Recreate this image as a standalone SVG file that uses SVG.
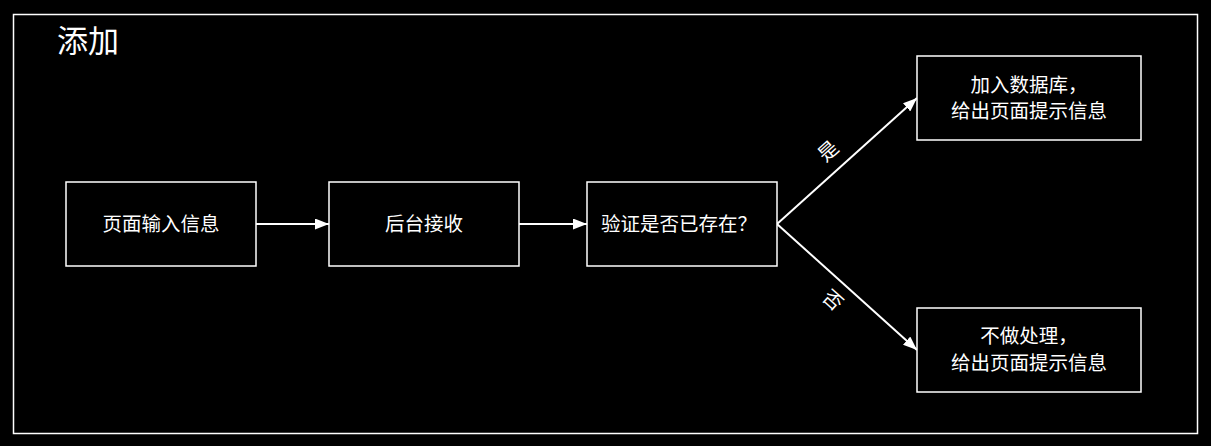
<svg xmlns="http://www.w3.org/2000/svg" width="1211" height="446" viewBox="0 0 1211 446">
<style>
.box{fill:#000;stroke:#fff;stroke-width:1.5}
.t{font-family:"Liberation Sans","Noto Sans CJK SC",sans-serif;font-size:19.5px;fill:#fff;text-anchor:middle;dominant-baseline:central}
.edge{stroke:#fff;stroke-width:2;fill:none}
</style>
<defs>
<marker id="ah" viewBox="0 0 14 11" refX="14" refY="5.5" markerWidth="14" markerHeight="11" markerUnits="userSpaceOnUse" orient="auto">
<path d="M0,0 L14,5.5 L0,11 z" fill="#fff"/>
</marker>
</defs>
<rect x="0" y="0" width="1211" height="446" fill="#000"/>
<g id="frame">
<rect x="13.5" y="14.5" width="1184" height="419" fill="none" stroke="#fff" stroke-width="1.5"/>
<text x="57" y="52" font-family="'Liberation Sans','Noto Sans CJK SC',sans-serif" font-size="31" fill="#fff">添加</text>
</g>
<g id="connectors">
<line class="edge" x1="256" y1="224" x2="329" y2="224" marker-end="url(#ah)"/>
<line class="edge" x1="519" y1="224" x2="587" y2="224" marker-end="url(#ah)"/>
<line class="edge" x1="777" y1="224" x2="917" y2="98" marker-end="url(#ah)"/>
<line class="edge" x1="777" y1="224" x2="917" y2="350" marker-end="url(#ah)"/>
<text class="t" transform="translate(828,151) rotate(-42)">是</text>
<text class="t" transform="translate(833,300) rotate(42)">否</text>
</g>
<g id="n1">
<rect class="box" x="66" y="182" width="190" height="84"/>
<text class="t" x="161" y="224">页面输入信息</text>
</g>
<g id="n2">
<rect class="box" x="329" y="182" width="190" height="84"/>
<text class="t" x="424" y="224">后台接收</text>
</g>
<g id="n3">
<rect class="box" x="587" y="182" width="190" height="84"/>
<text class="t" x="679" y="224">验证是否已存在？</text>
</g>
<g id="n4">
<rect class="box" x="917" y="56" width="224" height="84"/>
<text class="t" x="1029" y="85">加入数据库，</text>
<text class="t" x="1029" y="111">给出页面提示信息</text>
</g>
<g id="n5">
<rect class="box" x="917" y="308" width="224" height="84"/>
<text class="t" x="1029" y="336">不做处理，</text>
<text class="t" x="1029" y="363">给出页面提示信息</text>
</g>
</svg>
